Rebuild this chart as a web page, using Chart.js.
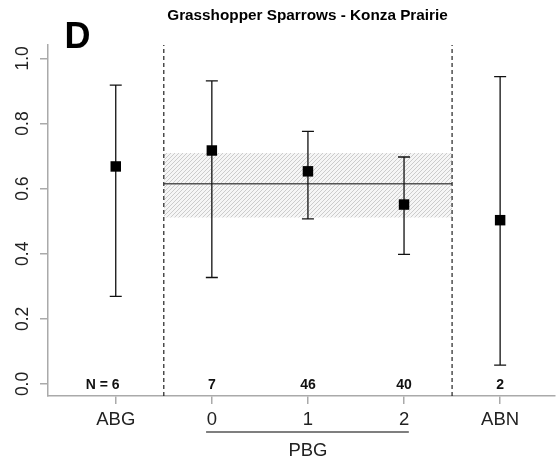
<!DOCTYPE html>
<html>
<head>
<meta charset="utf-8">
<script src="https://cdn.jsdelivr.net/npm/chart.js@4/dist/chart.umd.min.js"></script>
<style>
html, body { margin: 0; padding: 0; background: #fff; overflow: hidden; }
canvas { display: block; }
</style>
</head>
<body>
<canvas id="myChart" width="556" height="461"></canvas>
<script>
// values
var groups = ['ABG', '0', '1', '2', 'ABN'];
var estimates = [0.668, 0.717, 0.653, 0.551, 0.503];
var lower = [0.269, 0.327, 0.507, 0.398, 0.058];
var upper = [0.918, 0.931, 0.776, 0.697, 0.944];
var sampleN = [6, 7, 46, 40, 2];
var pooled = [0.615];
var pooledCI = [0.511, 0.709];
var separators = [1.5, 4.5];
var yTicks = [0, 0.2, 0.4, 0.6, 0.8, 1.0];
var yTickLabels = ['0.0', '0.2', '0.4', '0.6', '0.8', '1.0'];

var yMin = -0.037, yMax = 1.041;
var font = "'Liberation Sans', Arial, sans-serif";

// hatch pattern for the pooled band
var pc = document.createElement('canvas');
pc.width = 4; pc.height = 4;
var pctx = pc.getContext('2d');
pctx.fillStyle = '#f6f6f6';
pctx.fillRect(0, 0, 4, 4);
pctx.strokeStyle = '#cccccc';
pctx.lineWidth = 1;
pctx.beginPath();
pctx.moveTo(0, 4); pctx.lineTo(4, 0);
pctx.moveTo(-1, 1); pctx.lineTo(1, -1);
pctx.moveTo(3, 5); pctx.lineTo(5, 3);
pctx.stroke();
var hatch = pctx.createPattern(pc, 'repeat');

var points = [];
for (var i = 0; i < groups.length; i++)
{
    points.push({x: i + 1, y: estimates[i]});
}

var datasets = [
    {
        data: points,
        pointStyle: 'rect',
        pointRadius: 7.4,
        pointBackgroundColor: '#000',
        pointBorderWidth: 0,
        showLine: false,
        order: 0
    },
    {
        data: [{x: separators[0], y: pooledCI[1]}, {x: separators[1], y: pooledCI[1]}],
        showLine: true, pointRadius: 0, borderWidth: 0,
        fill: '+1', backgroundColor: hatch,
        order: 10
    },
    {
        data: [{x: separators[0], y: pooledCI[0]}, {x: separators[1], y: pooledCI[0]}],
        showLine: true, pointRadius: 0, borderWidth: 0,
        order: 11
    },
    {
        data: [{x: separators[0], y: pooled[0]}, {x: separators[1], y: pooled[0]}],
        showLine: true, pointRadius: 0, borderWidth: 1.5, borderColor: '#555',
        order: 5
    }
];
separators.forEach(function(s)
{
    datasets.push({
        data: [{x: s, y: yMin}, {x: s, y: yMax}],
        showLine: true, pointRadius: 0, borderWidth: 1.2, borderColor: '#222',
        borderDash: [4, 3],
        order: 4
    });
});

var extras = {
    id: 'extras',
    beforeDatasetDraw: function(chart, args)
    {
        if (args.index !== 0) return;
        var ctx = chart.ctx, xs = chart.scales.x, ys = chart.scales.y;
        ctx.save();
        ctx.strokeStyle = '#111';
        ctx.lineWidth = 1.3;
        for (var i = 0; i < groups.length; i++)
        {
            var px = xs.getPixelForValue(i + 1);
            var top = ys.getPixelForValue(upper[i]);
            var bot = ys.getPixelForValue(lower[i]);
            ctx.beginPath();
            ctx.moveTo(px, top); ctx.lineTo(px, bot);
            ctx.moveTo(px - 6, top); ctx.lineTo(px + 6, top);
            ctx.moveTo(px - 6, bot); ctx.lineTo(px + 6, bot);
            ctx.stroke();
        }
        ctx.restore();
    },
    afterDraw: function(chart)
    {
        var ctx = chart.ctx, xs = chart.scales.x, ys = chart.scales.y;
        ctx.save();
        // y tick labels, rotated like the original
        ctx.fillStyle = '#222';
        ctx.font = '17.5px ' + font;
        ctx.textAlign = 'center';
        ctx.textBaseline = 'alphabetic';
        for (var i = 0; i < yTicks.length; i++)
        {
            ctx.save();
            ctx.translate(28, ys.getPixelForValue(yTicks[i]));
            ctx.rotate(-Math.PI / 2);
            ctx.fillText(yTickLabels[i], 0, 0);
            ctx.restore();
        }
        // sample sizes
        ctx.fillStyle = '#111';
        ctx.font = 'bold 14px ' + font;
        var ny = ys.getPixelForValue(0) + 5.5;
        for (var i = 0; i < sampleN.length; i++)
        {
            var px = xs.getPixelForValue(i + 1);
            var s = String(sampleN[i]);
            ctx.textAlign = 'center';
            ctx.fillText(s, px, ny);
            if (i === 0)
            {
                ctx.textAlign = 'right';
                ctx.fillText('N = ', px - ctx.measureText(s).width / 2, ny);
            }
        }
        // PBG bracket
        ctx.strokeStyle = '#555';
        ctx.lineWidth = 1.5;
        ctx.beginPath();
        ctx.moveTo(xs.getPixelForValue(1.94), 432);
        ctx.lineTo(xs.getPixelForValue(4.05), 432);
        ctx.stroke();
        ctx.fillStyle = '#222';
        ctx.font = '18.5px ' + font;
        ctx.textAlign = 'center';
        ctx.fillText('PBG', xs.getPixelForValue(3), 456);
        // title and panel letter
        ctx.fillStyle = '#000';
        ctx.font = 'bold 15.3px ' + font;
        ctx.fillText('Grasshopper Sparrows - Konza Prairie', 307.5, 20);
        ctx.font = 'bold 36px ' + font;
        ctx.textAlign = 'left';
        ctx.fillText('D', 64.5, 48);
        ctx.restore();
    }
};

var canvas = document.getElementById('myChart');
var myChart = new Chart(canvas.getContext('2d'),
{
    type: 'scatter',
    data: {datasets: datasets},
    options:
    {
        responsive: false,
        animation: false,
        layout: {autoPadding: false, padding: {top: 45, right: 1, left: 0, bottom: 0}},
        plugins: {legend: {display: false}, tooltip: {enabled: false}, title: {display: false}},
        scales:
        {
            x:
            {
                type: 'linear', min: 0.295, max: 5.571,
                afterBuildTicks: function(scale)
                {
                    scale.ticks = groups.map(function(g, i) { return {value: i + 1}; });
                },
                afterFit: function(scale)
                {
                    scale.height = 65;
                    scale.paddingLeft = 0;
                    scale.paddingRight = 0;
                },
                ticks:
                {
                    autoSkip: false, maxRotation: 0, minRotation: 0,
                    color: '#222', font: {size: 18.5, family: font}, padding: 5,
                    callback: function(v, i) { return groups[i]; }
                },
                grid: {drawOnChartArea: false, drawTicks: true, tickLength: 8, color: '#aaa', lineWidth: 1.5},
                border: {display: true, color: '#aaa', width: 1.5}
            },
            y:
            {
                type: 'linear', min: yMin, max: yMax,
                afterBuildTicks: function(scale)
                {
                    scale.ticks = yTicks.map(function(v) { return {value: v}; });
                },
                afterFit: function(scale)
                {
                    scale.width = 48;
                    scale.paddingTop = 0;
                    scale.paddingBottom = 0;
                },
                ticks: {display: false},
                grid: {drawOnChartArea: false, drawTicks: true, tickLength: 8, color: '#aaa', lineWidth: 1.5},
                border: {display: true, color: '#aaa', width: 1.5}
            }
        }
    },
    plugins: [extras]
});
</script>
</body>
</html>
